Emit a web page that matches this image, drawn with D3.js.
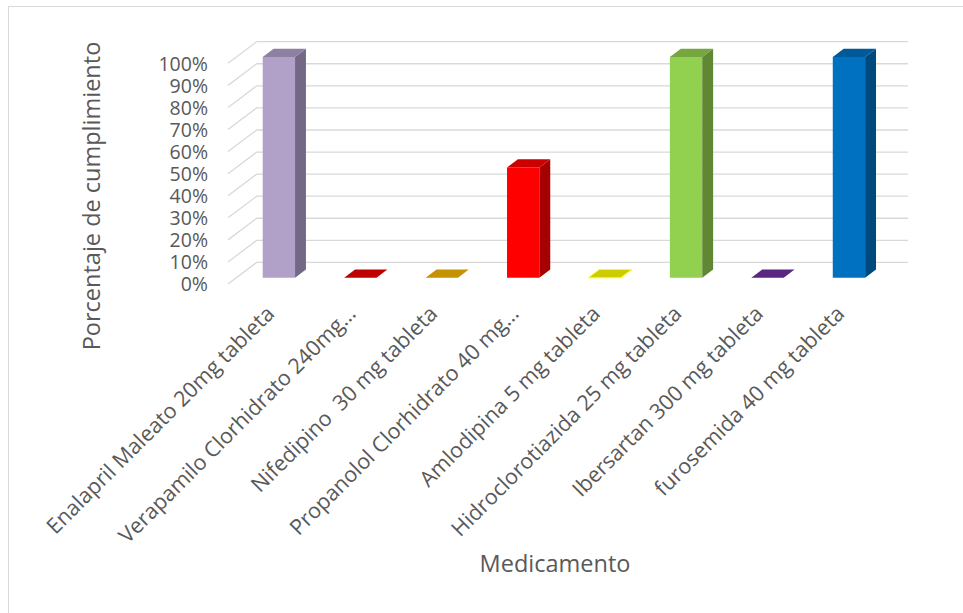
<!DOCTYPE html>
<html><head><meta charset="utf-8">
<script src="https://cdnjs.cloudflare.com/ajax/libs/d3/7.8.5/d3.min.js"></script>
<style>
html,body{margin:0;padding:0;background:#fff;}
svg text{font-family:"Open Sans",sans-serif;fill:#595959;white-space:pre;}
</style></head>
<body><svg id="c" width="963" height="613"></svg>
<script>
const categories = ["Enalapril Maleato 20mg tableta","Verapamilo Clorhidrato 240mg…","Nifedipino  30 mg tableta","Propanolol Clorhidrato 40 mg…","Amlodipina 5 mg tableta","Hidroclorotiazida 25 mg tableta","Ibersartan 300 mg tableta","furosemida 40 mg tableta"];
const values = [1, 0, 0, 0.5, 0, 1, 0, 1];
const frontColors = ["#B1A0C7","#C00000","#BF9000","#FF0000","#FFFF00","#92D050","#7030A0","#0070C0"];
const sideColors  = ["#736886","#7D0000","#7C5E00","#A60000","#A6A600","#5F8734","#491F68","#00497D"];
const topColors   = ["#8E80A0","#C00000","#C59200","#CC0000","#CCCC00","#75A640","#5A2680","#005A9A"];
const tickValues = [0,0.1,0.2,0.3,0.4,0.5,0.6,0.7,0.8,0.9,1];
const yTitle = "Porcentaje de cumplimiento";
const xTitle = "Medicamento";

const svg = d3.select("#c");
// chart frame
svg.append("rect").attr("x",8.5).attr("y",6.5).attr("width",1000).attr("height",700)
  .attr("fill","#fff").attr("stroke","#d9d9d9").attr("stroke-width",1);

const DX = 28.7, DY = -21.6;
const x = d3.scaleBand().domain(categories).range([228, 879.5]);
const y = d3.scaleLinear().domain([0,1]).range([284, 63.3]);
const proj = (px, v, z) => [px + z*DX, y(v) + z*DY];

// gridlines
const g = svg.append("g");
tickValues.forEach(v => {
  const a = proj(228, v, 0), b = proj(228, v, 1), c = proj(879.5, v, 1);
  g.append("path").attr("d", `M${a}L${b}L${c}`).attr("fill","none")
    .attr("stroke","#d9d9d9").attr("stroke-width",1.3);
});

// tick labels
const fmt = d3.format(".0%");
svg.append("g").selectAll("text").data(tickValues).join("text")
  .attr("x", 208).attr("y", d => y(d) + 2).attr("text-anchor","end")
  .attr("dominant-baseline","middle").style("font-size","19.5px").text(d => fmt(d));

// bars
const zf = 0.29, zb = 0.67;
const bars = svg.append("g");
categories.forEach((c, i) => {
  const bw = x.bandwidth();
  const x0 = x(c) + bw*0.324, x1 = x0 + bw*0.397;
  const v = values[i];
  const poly = pts => "M" + pts.map(p => p.join(",")).join("L") + "Z";
  if (v > 0) {
    bars.append("path").attr("d", poly([proj(x0,0,zf),proj(x1,0,zf),proj(x1,v,zf),proj(x0,v,zf)]))
      .attr("fill", frontColors[i]);
    bars.append("path").attr("d", poly([proj(x1,0,zf),proj(x1,0,zb),proj(x1,v,zb),proj(x1,v,zf)]))
      .attr("fill", sideColors[i]);
  }
  bars.append("path").attr("d", poly([proj(x0,v,zf),proj(x1,v,zf),proj(x1,v,zb),proj(x0,v,zb)]))
    .attr("fill", topColors[i])
    .attr("stroke", v === 0 && i === 4 ? frontColors[i] : "none").attr("stroke-width", 1);
});

// category labels
svg.append("g").selectAll("text").data(categories).join("text")
  .attr("transform", d => `translate(${x(d) + x.bandwidth()/2 + 7},315) rotate(-45)`)
  .attr("text-anchor","end").style("font-size","21.5px").text(d => d);

// axis titles
svg.append("text").attr("transform","translate(100,196) rotate(-90)")
  .attr("text-anchor","middle").style("font-size","23.5px").text(yTitle);
svg.append("text").attr("x",555).attr("y",572).attr("text-anchor","middle")
  .style("font-size","23.5px").text(xTitle);
</script></body></html>
